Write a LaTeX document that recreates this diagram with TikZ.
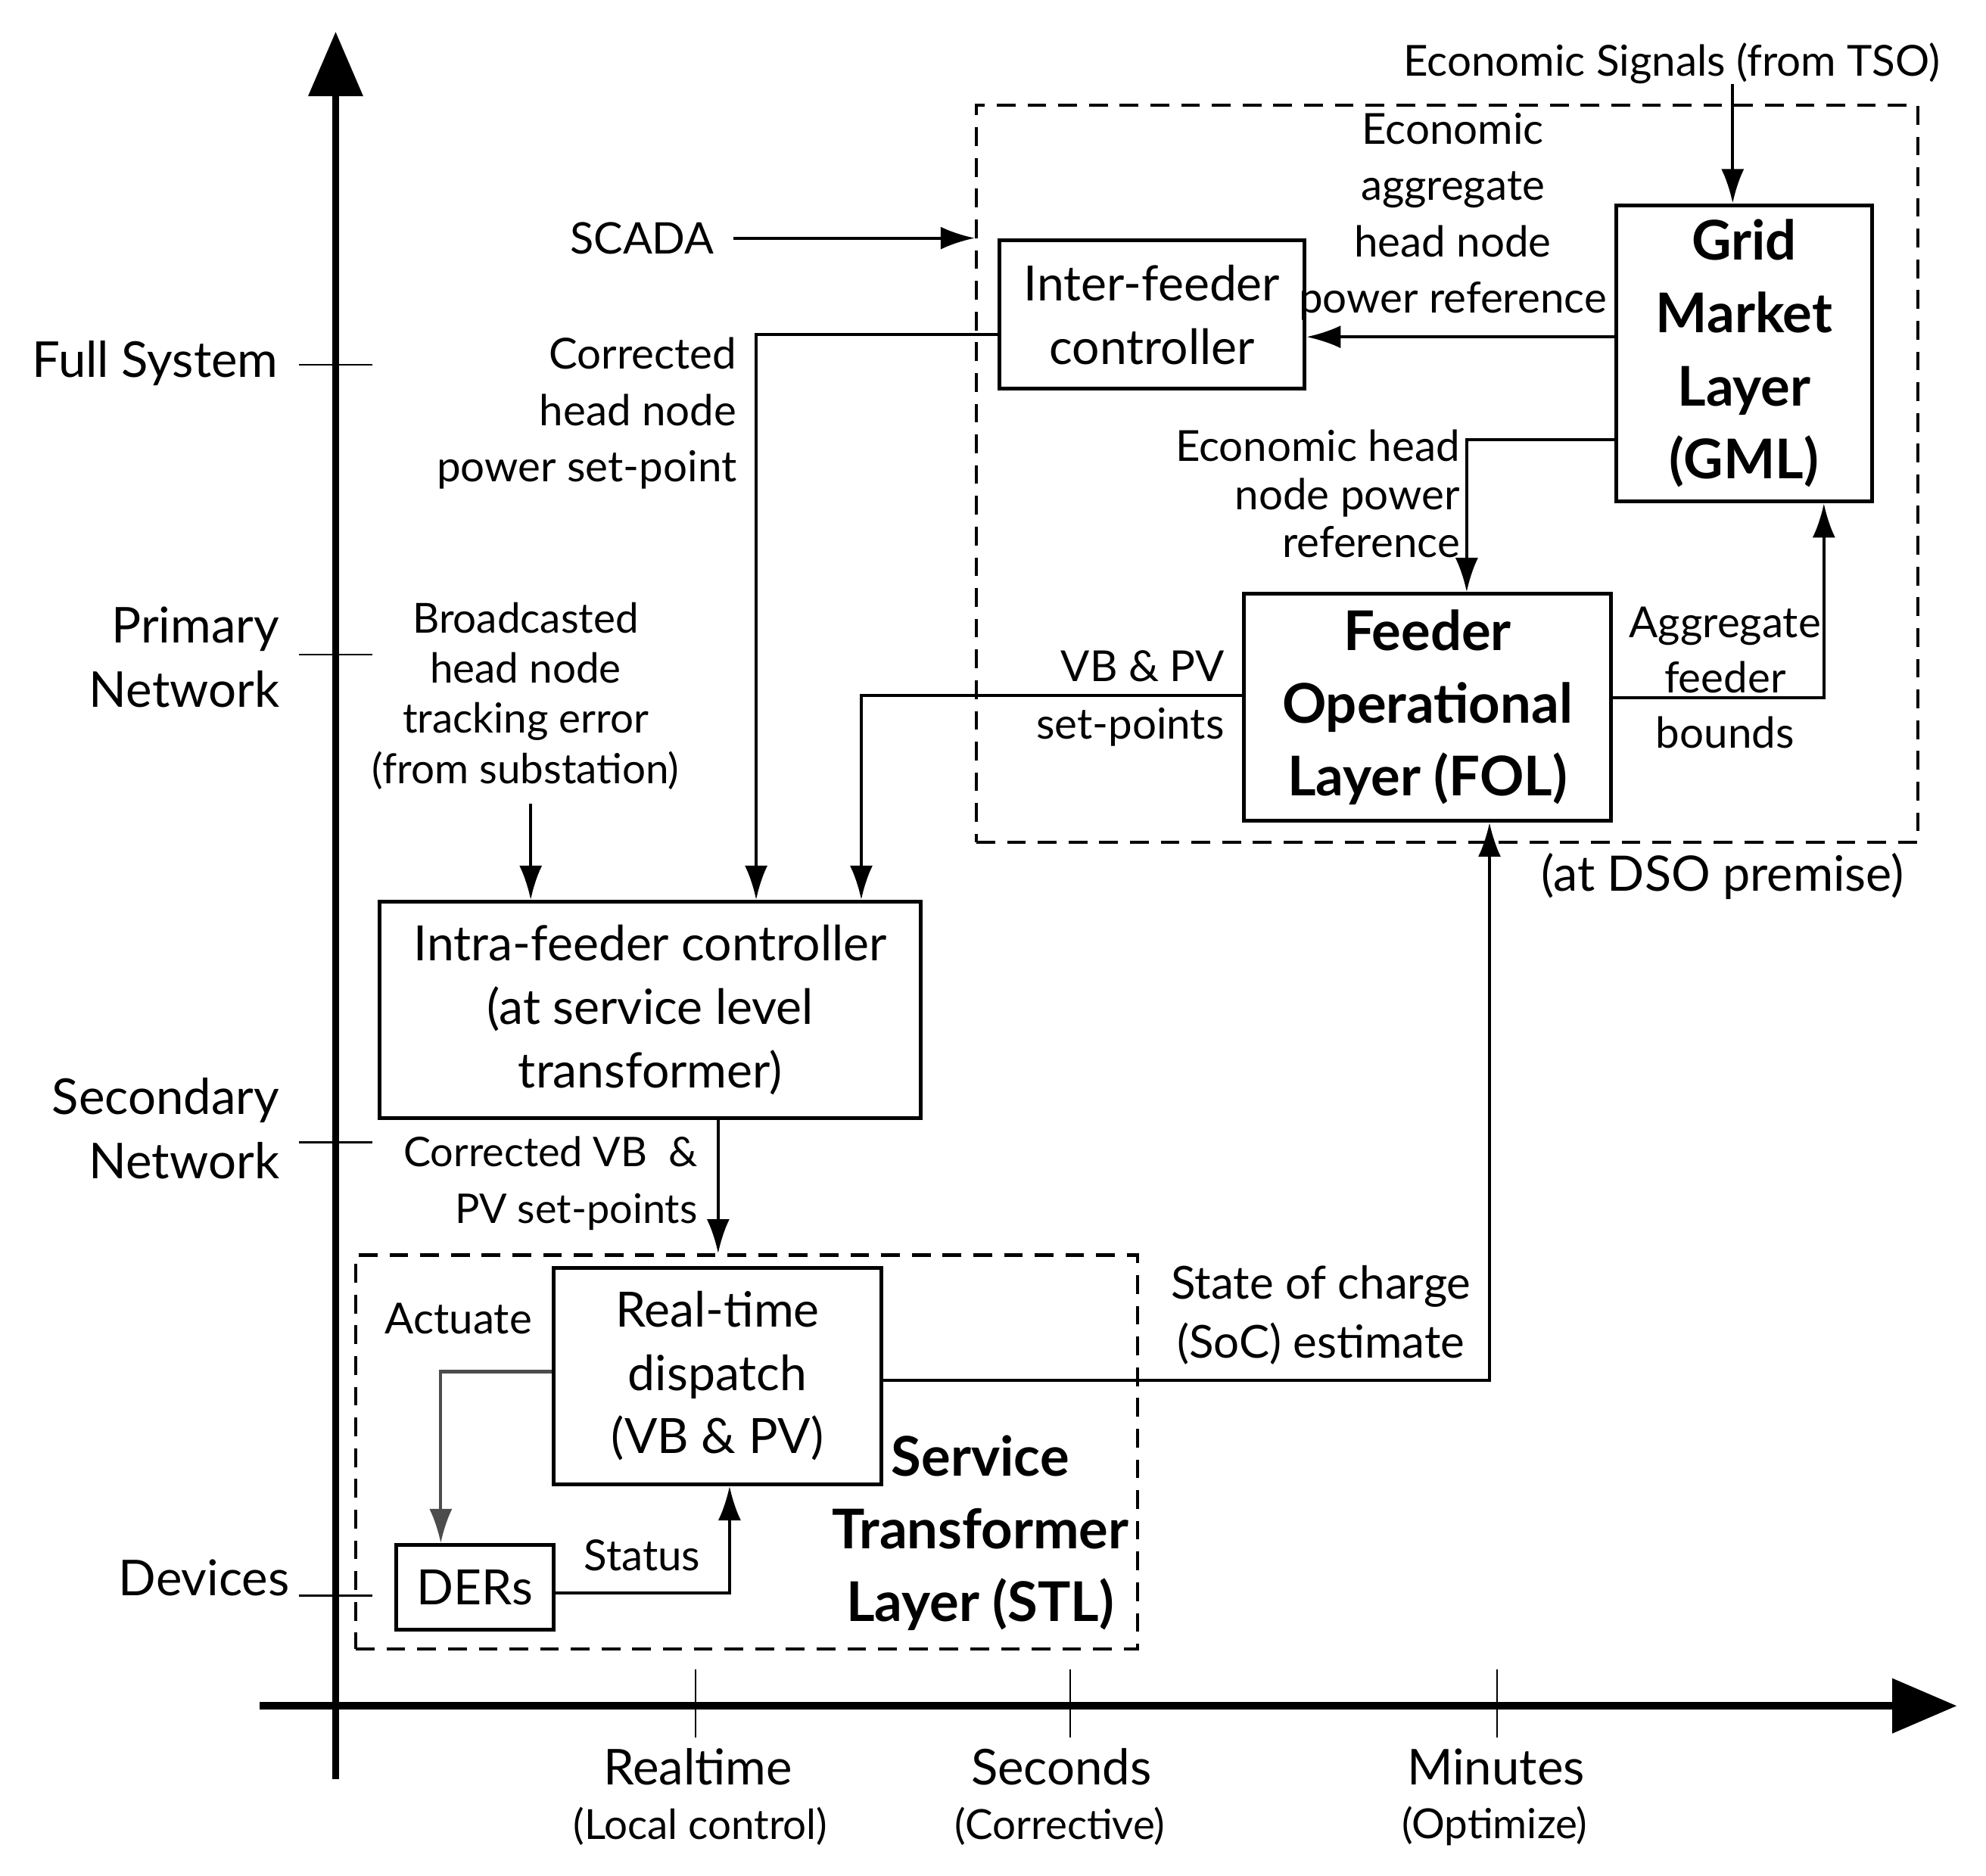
\documentclass[tikz,border=0pt]{standalone}
\usepackage{fontspec}
\setmainfont{Lato}
\usetikzlibrary{arrows.meta}
\begin{document}
\begin{tikzpicture}[x=0.016667cm,y=-0.016667cm,
    box/.style={draw,line width=1.4pt,inner sep=0pt,align=center,font=\fontsize{18.2}{23.7}\selectfont},
    bbox/.style={box,font=\fontsize{20.5}{27.3}\selectfont\bfseries},
    zone/.style={draw,line width=1.2pt,dash pattern=on 7pt off 4.5pt,inner sep=0pt},
    lbl/.style={inner sep=0pt,align=center,font=\fontsize{16}{21.1}\selectfont},
    axlbl/.style={inner sep=0pt,align=right,font=\fontsize{18.5}{24.2}\selectfont},
    sublbl/.style={inner sep=0pt,font=\fontsize{15.5}{19}\selectfont},
    arr/.style={-{Latex[length=0.45cm,width=0.3cm]},line width=1.2pt},
    actarr/.style={arr,draw=black!70},
    axis/.style={line width=2.8pt,-{Triangle[length=0.85cm,width=0.7cm]}},
    tick/.style={line width=0.7pt}]
  \useasboundingbox (0,0) rectangle (1568,1481.3);
  \coordinate (ybot) at (265,1405);
  \coordinate (ytop) at (265,25);
  \coordinate (xleft) at (205,1347);
  \coordinate (xright) at (1545,1347);
  \draw[axis] (ybot) -- (ytop);
  \draw[axis] (xleft) -- (xright);
  \foreach \y in {288,517,902,1260}
    \draw[tick] (236,\y) -- (294,\y);
  \foreach \x in {549,845,1182}
    \draw[tick] (\x,1318) -- (\x,1372);
  \draw
    (220,287) node[axlbl,anchor=east] (full) {Full System}
    (221,519) node[axlbl,anchor=east] (prim) {Primary\\Network}
    (221,891) node[axlbl,anchor=east] (sec) {Secondary\\Network}
    (229,1246) node[axlbl,anchor=east] (dev) {Devices}
    (551,1395) node[axlbl] (rt) {Realtime}
    (553,1442) node[sublbl] (rtsub) {(Local control)}
    (838,1395) node[axlbl] (sc) {Seconds}
    (837,1442) node[sublbl] (scsub) {(Corrective)}
    (1181,1395) node[axlbl] (mn) {Minutes}
    (1180,1442) node[sublbl] (mnsub) {(Optimize)};
  \draw
    (1142.5,374) node[zone,minimum width=12.383cm,minimum height=9.7cm] (dso) {}
    (589.5,1146.5) node[zone,minimum width=10.283cm,minimum height=5.183cm] (stl) {}
    (909.5,248.5) node[box,minimum width=4.017cm,minimum height=1.95cm] (inter) {Inter-feeder\\controller}
    (1377,279) node[bbox,minimum width=3.367cm,minimum height=3.9cm] (gml) {Grid\\Market\\Layer\\(GML)}
    (1127,558.5) node[bbox,minimum width=4.833cm,minimum height=2.983cm] (fol) {Feeder\\Operational\\Layer (FOL)}
    (513.5,797.5) node[box,minimum width=7.117cm,minimum height=2.85cm] (intra) {Intra-feeder controller\\(at service level\\transformer)}
    (566.5,1086.5) node[box,minimum width=4.317cm,minimum height=2.85cm] (rtd) {Real-time\\dispatch\\(VB \& PV)}
    (375,1253.5) node[box,minimum width=2.067cm,minimum height=1.117cm] (ders) {DERs};
  \draw
    (1320,50) node[lbl,font=\fontsize{16}{21}\selectfont] (tso) {Economic Signals (from TSO)}
    (507,188) node[lbl,font=\fontsize{16.3}{21}\selectfont] (scada) {SCADA}
    (1147,171) node[lbl] (econagg) {Economic\\aggregate\\head node\\power reference}
    (1153,390) node[lbl,anchor=east,align=right,font=\fontsize{16}{18}\selectfont] (econhead) {Economic head\\node power\\reference}
    (1362,535) node[lbl,font=\fontsize{16}{20.6}\selectfont] (aggb) {Aggregate\\feeder\\bounds}
    (967,551.5) node[lbl,anchor=east,align=right,font=\fontsize{16}{21.3}\selectfont] (vbpv) {VB \& PV\\set-points}
    (582,326.5) node[lbl,anchor=east,align=right] (corrhead) {Corrected\\head node\\power set-point}
    (415,549.5) node[lbl,font=\fontsize{15.5}{18.8}\selectfont] (bcast) {Broadcasted\\head node\\tracking error\\(from substation)}
    (551,934.5) node[lbl,anchor=east,align=right,font=\fontsize{15.3}{21.3}\selectfont] (corrvb) {Corrected VB\ \ \&\\PV set-points}
    (1043,1038.5) node[lbl,font=\fontsize{17}{22.3}\selectfont] (soc) {State of charge\\(SoC) estimate}
    (362,1041) node[lbl] (act) {Actuate}
    (507,1228) node[lbl] (status) {Status}
    (774,1210.5) node[lbl,font=\fontsize{20.5}{27.3}\selectfont\bfseries] (stltxt) {Service\\Transformer\\Layer (STL)}
    (1360,692) node[lbl,font=\fontsize{18.3}{22}\selectfont] (dsotxt) {(at DSO premise)};
  \begin{scope}[arr]
    \draw ([xshift=-0.15cm]gml.north |- tso.south) -- ([xshift=-0.15cm]gml.north);
    \draw ([xshift=0.25cm]scada.east) -- (dso.west |- scada.east);
    \draw (gml.west |- 0,266) -- (inter.east |- 0,266);
    \draw (gml.west |- 0,347) -| (fol.north -| 1158,0);
    \draw (fol.east |- 0,551) -| (gml.south -| 1440,0);
    \draw (fol.west |- 0,549) -| (intra.north -| 680,0);
    \draw (inter.west |- 0,264) -| (intra.north -| 597,0);
    \draw ([yshift=-0.18cm]bcast.south -| 419,0) -- (intra.north -| 419,0);
    \draw (intra.south -| 567,0) -- (stl.north -| 567,0);
    \draw (rtd.east |- 0,1090) -| (fol.south -| 1176,0);
    \draw[actarr] (rtd.west |- 0,1083) -| (ders.north -| 348,0);
    \draw (ders.east |- 0,1258) -| (rtd.south -| 576,0);
  \end{scope}
\end{tikzpicture}
\end{document}
